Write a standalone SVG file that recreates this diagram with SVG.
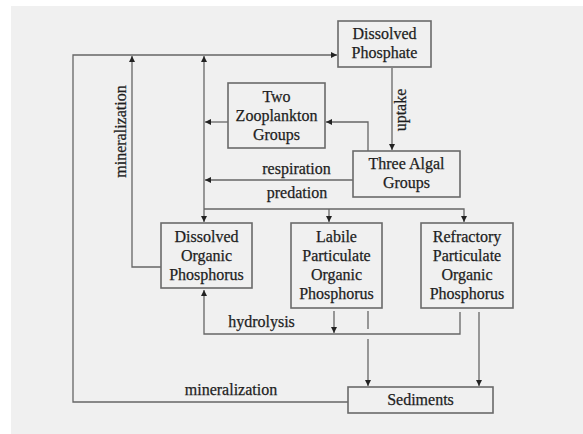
<svg xmlns="http://www.w3.org/2000/svg" width="583" height="434" viewBox="0 0 583 434">
<style>
.box{fill:#f0f0f0;stroke:#6a6a6a;stroke-width:1.6}
.t{font-family:"Liberation Serif","Times New Roman",serif;font-size:16px;fill:#1e1e1e;stroke:#1e1e1e;stroke-width:0.25;text-anchor:middle}
.c{fill:none;stroke:#666666;stroke-width:1.3}
</style>
<defs>
<marker id="a" markerUnits="userSpaceOnUse" markerWidth="8" markerHeight="8" refX="6" refY="3" orient="auto">
<path d="M0,0 L6,3 L0,6 Z" fill="#222"/>
</marker>
</defs>
<rect x="0" y="0" width="583" height="434" fill="#ffffff"/>
<rect x="11" y="6" width="572" height="428" fill="#f0f0f0"/>

<g id="connectors">
<polyline class="c" points="348,402 73,402 73,55 337,55" marker-end="url(#a)"/>
<polyline class="c" points="161,267 132,267 132,56" marker-end="url(#a)"/>
<polyline class="c" points="204,209 204,56" marker-end="url(#a)"/>
<polyline class="c" points="204,209 204,222" marker-end="url(#a)"/>
<polyline class="c" points="392,68 392,150" marker-end="url(#a)"/>
<polyline class="c" points="368,151 368,122 326,122" marker-end="url(#a)"/>
<polyline class="c" points="228,122 205,122" marker-end="url(#a)"/>
<polyline class="c" points="353,180 205,180" marker-end="url(#a)"/>
<polyline class="c" points="204,209 464,209 464,222" marker-end="url(#a)"/>
<polyline class="c" points="329,209 329,222" marker-end="url(#a)"/>
<polyline class="c" points="460,312 460,334 204,334 204,290" marker-end="url(#a)"/>
<polyline class="c" points="334,311 334,333" marker-end="url(#a)"/>
<polyline class="c" points="368,311 368,329"/>
<polyline class="c" points="368,339 368,386" marker-end="url(#a)"/>
<polyline class="c" points="479,312 479,386" marker-end="url(#a)"/>
</g>

<g id="dissolved-phosphate">
<rect class="box" x="338" y="21" width="93" height="46"/>
<text class="t" x="384.5" y="39">Dissolved</text>
<text class="t" x="384.5" y="58">Phosphate</text>
</g>
<g id="zooplankton">
<rect class="box" x="228" y="83" width="97" height="65"/>
<text class="t" x="276.5" y="102">Two</text>
<text class="t" x="276.5" y="121">Zooplankton</text>
<text class="t" x="276.5" y="140">Groups</text>
</g>
<g id="algal">
<rect class="box" x="353" y="151" width="107" height="46"/>
<text class="t" x="406.5" y="169">Three Algal</text>
<text class="t" x="406.5" y="188">Groups</text>
</g>
<g id="dop">
<rect class="box" x="161" y="223" width="91" height="65"/>
<text class="t" x="206.5" y="242">Dissolved</text>
<text class="t" x="206.5" y="261">Organic</text>
<text class="t" x="206.5" y="280">Phosphorus</text>
</g>
<g id="lpop">
<rect class="box" x="291" y="223" width="91" height="85"/>
<text class="t" x="336.5" y="242">Labile</text>
<text class="t" x="336.5" y="261">Particulate</text>
<text class="t" x="336.5" y="280">Organic</text>
<text class="t" x="336.5" y="299">Phosphorus</text>
</g>
<g id="rpop">
<rect class="box" x="421" y="223" width="92" height="85"/>
<text class="t" x="467" y="242">Refractory</text>
<text class="t" x="467" y="261">Particulate</text>
<text class="t" x="467" y="280">Organic</text>
<text class="t" x="467" y="299">Phosphorus</text>
</g>
<g id="sediments">
<rect class="box" x="348" y="387" width="145" height="26"/>
<text class="t" x="420.5" y="405">Sediments</text>
</g>

<g id="labels">
<text class="t" transform="translate(126,131.5) rotate(-90)">mineralization</text>
<text class="t" transform="translate(406,110) rotate(-90)">uptake</text>
<text class="t" x="296.5" y="174">respiration</text>
<text class="t" x="297" y="198">predation</text>
<text class="t" x="261.5" y="327">hydrolysis</text>
<text class="t" x="231" y="395">mineralization</text>
</g>
</svg>
